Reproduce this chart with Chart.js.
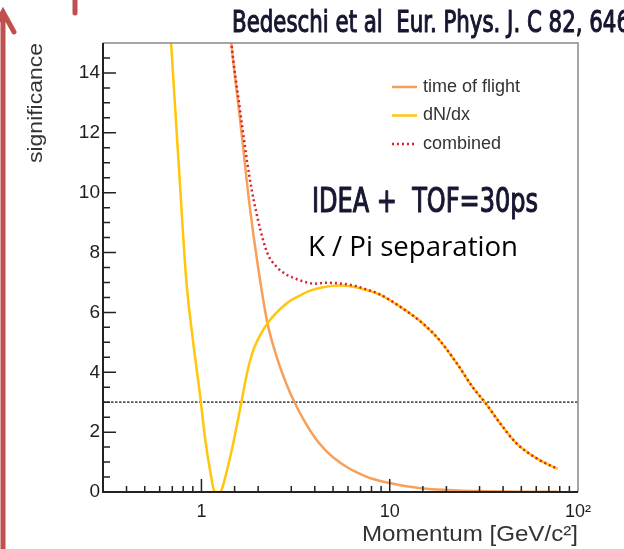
<!DOCTYPE html>
<html>
<head>
<meta charset="utf-8">
<script src="https://cdn.jsdelivr.net/npm/chart.js@4.4.1/dist/chart.umd.min.js"></script>
<style>
  html, body { margin: 0; padding: 0; background: #fff; }
  #wrap { width: 624px; height: 549px; }
</style>
</head>
<body>
<div id="wrap"><canvas id="chart" width="624" height="549"></canvas></div>
<script>
// K/pi separation power vs momentum [GeV/c]
const tofMomentum = [1.2, 1.3, 1.44, 1.6, 1.8, 2.0, 2.24, 2.5, 2.83, 3.12, 3.5, 4, 4.5, 5, 6, 7, 8, 10, 12, 15, 20, 30, 50, 78];
const tofSignificance = [22, 18.4, 15, 12.5, 9.6, 7.5, 5.65, 4.55, 3.6, 3.0, 2.4, 1.82, 1.43, 1.16, 0.81, 0.6, 0.45, 0.3, 0.2, 0.12, 0.07, 0.03, 0.01, 0.005];

const dndxMomentum = [0.62, 0.69, 0.76, 0.83, 0.9, 0.98, 1.05, 1.12, 1.17, 1.2, 1.25, 1.28, 1.37, 1.46, 1.63, 1.76, 1.91, 2.24, 2.83, 3.3, 3.75, 4.5, 5.4, 6.5, 7.5, 8.8, 11.3, 15, 18.4, 22.7, 27.6, 32, 38.5, 47, 60, 78];
const dndxSignificance = [20.5, 15, 10.8, 7.1, 5.1, 3.3, 1.7, 0.6, 0.03, 0, 0, 0.08, 0.75, 1.5, 3.0, 4.07, 4.83, 5.63, 6.3, 6.55, 6.72, 6.85, 6.9, 6.85, 6.75, 6.6, 6.2, 5.63, 5.07, 4.3, 3.5, 3.0, 2.3, 1.63, 1.13, 0.77];

const combinedMomentum = [1.3, 1.44, 1.6, 1.8, 2.0, 2.24, 2.5, 2.83, 3.12, 3.5, 4, 4.5, 5.4, 6.5, 7.5, 8.8, 11.3, 15, 18.4, 22.7, 27.6, 32, 38.5, 47, 60, 78];
const combinedSignificance = [18.4, 15.05, 12.8, 10.52, 9.07, 7.98, 7.53, 7.26, 7.14, 7.03, 6.96, 6.99, 6.97, 6.89, 6.77, 6.61, 6.2, 5.63, 5.07, 4.3, 3.5, 3.0, 2.3, 1.63, 1.13, 0.77];

// 3 sigma reference line
const thresholdMomentum = [0.3, 100];
const thresholdSignificance = [3, 3];

const xTickLabels = { 1: '1', 10: '10', 100: '10\u00b2' };
const yRange = [0, 15];
const xRange = [0.3, 100];

const toPoints = (xs, ys) => xs.map((x, i) => ({ x: x, y: ys[i] }));

const TEXT = '#1e1e1e';
const SANS = '"Liberation Sans", Arial, sans-serif';
const COND = '"DejaVu Sans Condensed", "DejaVu Sans", sans-serif';

// draw text squeezed/stretched to a given width, optionally thickened
function fitText(ctx, text, x, y, width, font, color, weight) {
  ctx.font = font;
  ctx.fillStyle = color;
  ctx.textAlign = 'left';
  ctx.textBaseline = 'alphabetic';
  const w = ctx.measureText(text).width;
  ctx.save();
  ctx.translate(x, y);
  ctx.scale(width / w, 1);
  ctx.fillText(text, 0, 0);
  if (weight) {
    ctx.strokeStyle = color;
    ctx.lineWidth = weight;
    ctx.lineJoin = 'round';
    ctx.strokeText(text, 0, 0);
  }
  ctx.restore();
}

const rootStyle = {
  id: 'rootStyle',
  beforeDraw(chart) {
    const ctx = chart.ctx;
    ctx.save();
    ctx.fillStyle = '#fff';
    ctx.fillRect(0, 0, chart.width, chart.height);
    ctx.restore();
  },
  afterDatasetsDraw(chart) {
    const ctx = chart.ctx;
    const a = chart.chartArea;
    const xs = chart.scales.x, ys = chart.scales.y;
    ctx.save();

    // frame: grey top/right, black axes
    ctx.lineWidth = 1.5;
    ctx.strokeStyle = '#888';
    ctx.beginPath();
    ctx.moveTo(a.left, a.top); ctx.lineTo(a.right, a.top); ctx.lineTo(a.right, a.bottom);
    ctx.stroke();
    ctx.lineWidth = 2;
    ctx.strokeStyle = '#222';
    ctx.beginPath();
    ctx.moveTo(a.left, a.top); ctx.lineTo(a.left, a.bottom); ctx.lineTo(a.right, a.bottom);
    ctx.stroke();

    // inward tick marks
    ctx.lineWidth = 1.5;
    ctx.beginPath();
    xs.ticks.forEach(t => {
      const v = t.value;
      if (v <= xRange[0] || v >= xRange[1]) return;
      const lg = Math.log10(v);
      const major = Math.abs(lg - Math.round(lg)) < 1e-6;
      const px = xs.getPixelForValue(v);
      ctx.moveTo(px, a.bottom);
      ctx.lineTo(px, a.bottom - (major ? 13 : 6));
    });
    for (let v = 0.5; v < yRange[1]; v += 0.5) {
      const py = ys.getPixelForValue(v);
      ctx.moveTo(a.left, py);
      ctx.lineTo(a.left + (v % 2 === 0 ? 13 : 7), py);
    }
    ctx.stroke();

    // legend
    const rows = chart.data.datasets.filter(d => d.label);
    rows.forEach((d, i) => {
      const y = 87 + i * 28.5;
      ctx.strokeStyle = d.borderColor;
      ctx.lineWidth = d.borderWidth;
      ctx.setLineDash(d.borderDash || []);
      ctx.beginPath();
      ctx.moveTo(392, y); ctx.lineTo(417, y);
      ctx.stroke();
      ctx.setLineDash([]);
      ctx.font = '18px ' + SANS;
      ctx.fillStyle = '#333';
      ctx.textBaseline = 'middle';
      ctx.fillText(d.label, 423, y);
    });

    // annotations
    fitText(ctx, 'IDEA +  TOF=30ps', 312, 212, 226, '34px ' + COND, '#161630', 1.1);
    fitText(ctx, 'K / Pi separation', 308, 256, 210, '28px "Open Sans", sans-serif', '#000');
    fitText(ctx, 'Bedeschi et al  Eur. Phys. J. C 82, 646', 232, 32, 398, '31px ' + COND, '#161630', 1.1);

    // axis titles
    fitText(ctx, 'Momentum [GeV/c\u00b2]', 362, 541, 216, '22px ' + SANS, '#333');
    ctx.save();
    ctx.translate(42, 163);
    ctx.rotate(-Math.PI / 2);
    fitText(ctx, 'significance', 0, 0, 120, '20px ' + SANS, '#333');
    ctx.restore();

    // red arrow at the left edge
    ctx.strokeStyle = '#c0504d';
    ctx.lineWidth = 5;
    ctx.lineCap = 'round';
    ctx.beginPath();
    ctx.moveTo(3, 549); ctx.lineTo(3, 12);
    ctx.moveTo(-8, 32); ctx.lineTo(3, 12); ctx.lineTo(14, 32);
    ctx.moveTo(75, 0); ctx.lineTo(75, 13);
    ctx.stroke();

    ctx.restore();
  }
};

const config = {
  type: 'line',
  data: {
    datasets: [
      {
        label: 'time of flight',
        data: toPoints(tofMomentum, tofSignificance),
        borderColor: '#f7a05a',
        borderWidth: 2.5,
        order: 3
      },
      {
        label: 'dN/dx',
        data: toPoints(dndxMomentum, dndxSignificance),
        borderColor: '#ffc60a',
        borderWidth: 2.5,
        order: 2
      },
      {
        label: 'combined',
        data: toPoints(combinedMomentum, combinedSignificance),
        borderColor: '#d8222e',
        borderWidth: 2.5,
        borderDash: [2, 3],
        order: 1
      },
      {
        label: '',
        data: toPoints(thresholdMomentum, thresholdSignificance),
        borderColor: '#555',
        borderWidth: 1.8,
        borderDash: [2.5, 1.5],
        cubicInterpolationMode: 'default',
        order: 4
      }
    ]
  },
  options: {
    responsive: false,
    animation: false,
    cubicInterpolationMode: 'monotone',
    elements: { point: { radius: 0 } },
    layout: { padding: { top: 43, right: 46, left: 0, bottom: 0 } },
    plugins: { legend: { display: false }, tooltip: { enabled: false } },
    scales: {
      x: {
        type: 'logarithmic',
        min: xRange[0],
        max: xRange[1],
        grid: { display: false, drawTicks: false },
        border: { display: false },
        afterFit(scale) { scale.height = 57; },
        ticks: {
          autoSkip: false,
          maxRotation: 0,
          padding: 9,
          color: TEXT,
          font: { family: SANS, size: 18 },
          callback: v => xTickLabels[v] || ''
        }
      },
      y: {
        min: yRange[0],
        max: yRange[1],
        grid: { display: false, drawTicks: false },
        border: { display: false },
        afterFit(scale) { scale.width = 103; },
        ticks: {
          stepSize: 2,
          includeBounds: false,
          padding: 3,
          color: TEXT,
          font: { family: SANS, size: 19 }
        }
      }
    }
  },
  plugins: [rootStyle]
};

const chart = new Chart(document.getElementById('chart').getContext('2d'), config);
</script>
</body>
</html>
